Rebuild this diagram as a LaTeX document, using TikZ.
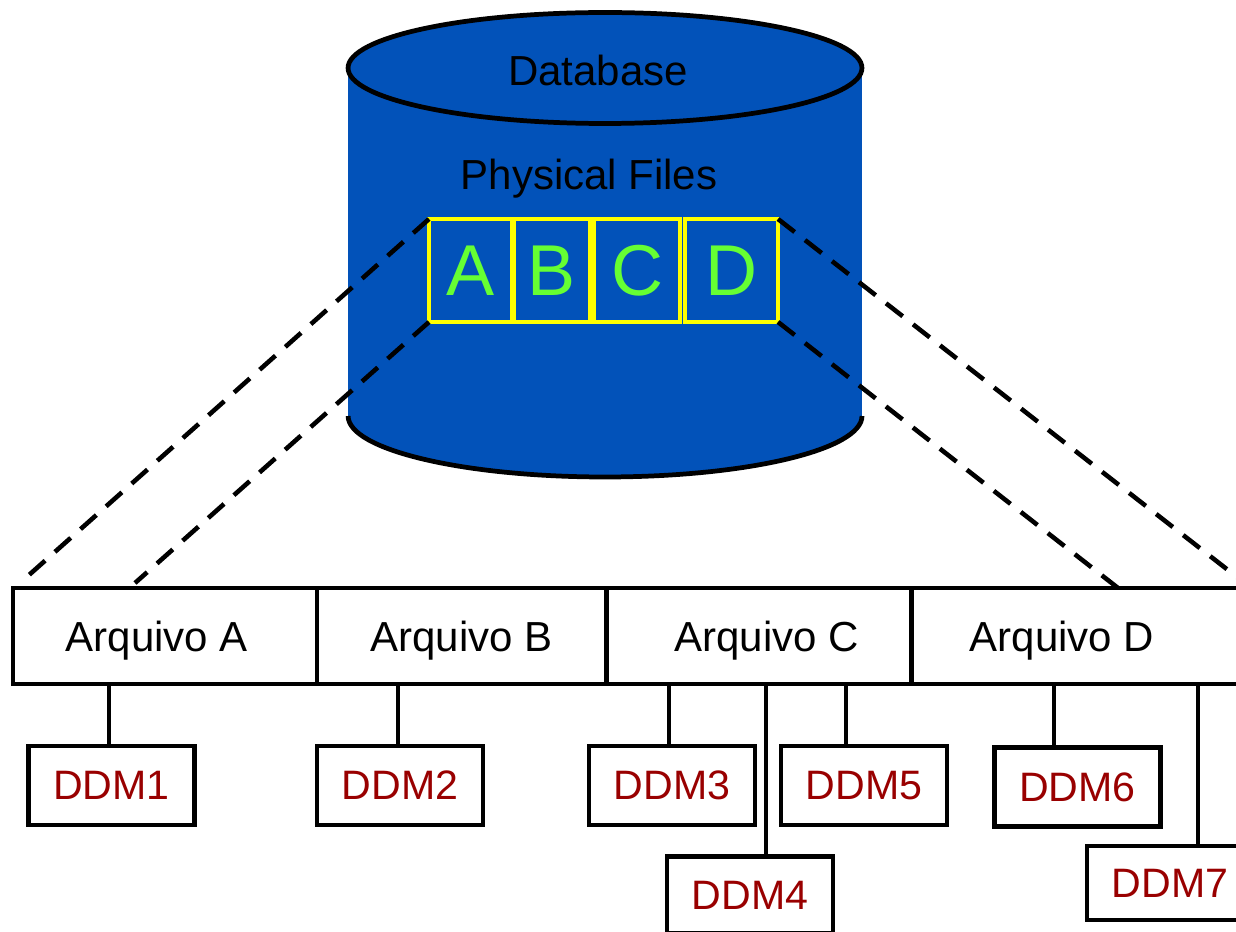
\documentclass[tikz,border=0pt]{standalone}
\usepackage{fontspec}
\setmainfont{Liberation Sans}
\definecolor{dbblue}{RGB}{2,82,185}
\definecolor{ddmred}{RGB}{153,0,0}
\definecolor{fgreen}{RGB}{102,255,51}
\definecolor{fyellow}{RGB}{255,255,0}
\begin{document}
\begin{tikzpicture}[x=0.02cm,y=-0.02cm,
  txt/.style={inner sep=0pt, text depth=0pt, font=\fontsize{23.9}{28}\selectfont},
  arq/.style={draw, line width=2.8pt, fill=white, minimum height=1.92cm, inner sep=0pt, outer sep=0pt, text depth=0pt, font=\fontsize{23.9}{28}\selectfont},
  ddm/.style={draw, line width=2.8pt, fill=white, minimum width=3.32cm, minimum height=1.58cm, inner sep=0pt, outer sep=0pt, text=ddmred, text depth=0pt, font=\fontsize{23.4}{28}\selectfont},
  fbox/.style={draw=fyellow, line width=2.5pt, minimum height=2.06cm, inner sep=0pt, outer sep=0pt, text=fgreen, text depth=0pt, font=\fontsize{41}{45}\selectfont},
  dashline/.style={line width=2.6pt, dash pattern=on 12pt off 7.5pt},
  conn/.style={line width=2.6pt}
]
\clip (0,0) rectangle (1236,932);
% cylinder
\fill[dbblue] (348,68) rectangle (862,416);
\fill[dbblue] (605,416) ellipse [x radius=5.14cm, y radius=1.22cm];
\draw[line width=2.7pt] (862,416) arc [start angle=0, end angle=-180, x radius=5.14cm, y radius=1.22cm];
\filldraw[fill=dbblue, draw=black, line width=2.7pt] (605,68) ellipse [x radius=5.14cm, y radius=1.11cm];
\node[txt] (db) at (598,70) {Database};
\node[txt] (pf) at (589,174) {Physical Files};
% dashed lines
\coordinate (l1) at (20,583);
\coordinate (l2) at (135,583);
\coordinate (r1) at (1251,588);
\coordinate (r2) at (1118,588);
% file boxes
\node[fbox, minimum width=1.66cm] (yA) at (470.5,270.5) {A};
\node[fbox, minimum width=1.52cm] (yB) at (552,270.5) {B};
\node[fbox, minimum width=1.72cm] (yC) at (637,270.5) {C};
\node[fbox, minimum width=1.86cm] (yD) at (731.5,270.5) {D};
\draw[dashline] (yA.north west) -- (l1);
\draw[dashline] (yA.south west) -- (l2);
\draw[dashline] (yD.north east) -- (r1);
\draw[dashline] (yD.south east) -- (r2);
% archive row
\node[arq, minimum width=6.08cm] (arqA) at (165,636) {Arquivo A\kern0.32cm};
\node[arq, minimum width=5.78cm] (arqB) at (461.5,636) {Arquivo B};
\node[arq, minimum width=6.10cm] (arqC) at (758.5,636) {\kern0.32cm Arquivo C};
\node[arq, minimum width=6.58cm] (arqD) at (1075.5,636) {Arquivo D\kern0.54cm};
% DDM boxes
\node[ddm] (ddm1) at (111.5,785.5) {DDM1};
\node[ddm] (ddm2) at (400,785.5) {DDM2};
\node[ddm] (ddm3) at (672,785.5) {DDM3};
\node[ddm] (ddm5) at (864,785.5) {DDM5};
\node[ddm] (ddm6) at (1077.5,787) {DDM6};
\node[ddm, minimum height=1.54cm] (ddm4) at (750,895) {DDM4};
\node[ddm, minimum height=1.48cm] (ddm7) at (1170,883) {DDM7};
% connectors
\coordinate (x1) at (109,0);
\coordinate (x2) at (398,0);
\coordinate (x3) at (669,0);
\coordinate (x4) at (766,0);
\coordinate (x5) at (846,0);
\coordinate (x6) at (1054,0);
\coordinate (x7) at (1198,0);
\draw[conn] (arqA.south -| x1) -- (ddm1.north -| x1);
\draw[conn] (arqB.south -| x2) -- (ddm2.north -| x2);
\draw[conn] (arqC.south -| x3) -- (ddm3.north -| x3);
\draw[conn] (arqC.south -| x4) -- (ddm4.north -| x4);
\draw[conn] (arqC.south -| x5) -- (ddm5.north -| x5);
\draw[conn] (arqD.south -| x6) -- (ddm6.north -| x6);
\draw[conn] (arqD.south -| x7) -- (ddm7.north -| x7);
\end{tikzpicture}
\end{document}
